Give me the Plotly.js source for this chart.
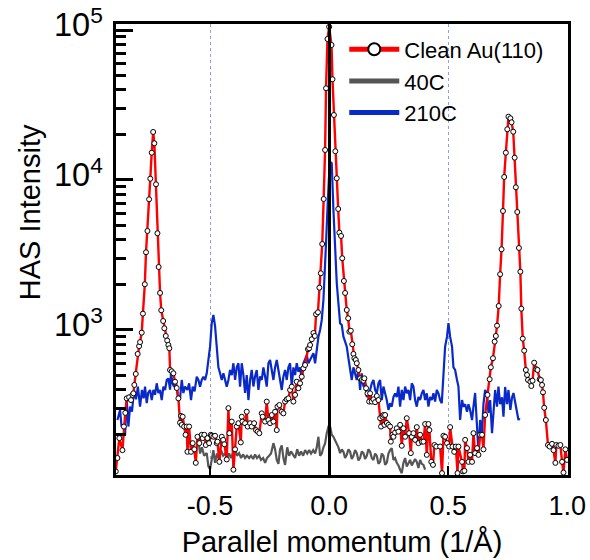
<!DOCTYPE html>
<html>
<head>
<meta charset="utf-8">
<script src="https://cdn.plot.ly/plotly-3.0.1.min.js"></script>
<style>html,body{margin:0;padding:0;background:#fff;}#chart{width:590px;height:560px;}</style>
</head>
<body>
<div id="chart"></div>
<script>
// Clean Au(110)
const cleanK = [-0.896,-0.889,-0.881,-0.868,-0.862,-0.856,-0.850,-0.840,-0.832,-0.826,-0.822,-0.818,-0.812,-0.804,-0.798,-0.794,-0.787,-0.782,-0.774,-0.769,-0.763,-0.756,-0.751,-0.745,-0.739,-0.734,-0.727,-0.721,-0.716,-0.710,-0.705,-0.697,-0.692,-0.686,-0.680,-0.675,-0.671,-0.668,-0.661,-0.654,-0.647,-0.640,-0.633,-0.626,-0.622,-0.619,-0.615,-0.609,-0.603,-0.598,-0.595,-0.588,-0.580,-0.573,-0.566,-0.560,-0.553,-0.545,-0.535,-0.531,-0.524,-0.518,-0.511,-0.504,-0.497,-0.493,-0.486,-0.479,-0.472,-0.469,-0.461,-0.451,-0.445,-0.440,-0.430,-0.423,-0.419,-0.409,-0.402,-0.395,-0.388,-0.381,-0.371,-0.367,-0.364,-0.353,-0.346,-0.342,-0.332,-0.325,-0.315,-0.307,-0.300,-0.293,-0.283,-0.279,-0.269,-0.262,-0.255,-0.248,-0.241,-0.234,-0.227,-0.220,-0.217,-0.209,-0.199,-0.192,-0.185,-0.178,-0.171,-0.164,-0.157,-0.150,-0.143,-0.136,-0.129,-0.122,-0.115,-0.108,-0.101,-0.089,-0.084,-0.080,-0.073,-0.066,-0.060,-0.055,-0.047,-0.041,-0.035,-0.029,-0.023,-0.017,-0.013,-0.007,0.000,0.010,0.014,0.020,0.026,0.032,0.038,0.043,0.050,0.055,0.062,0.067,0.074,0.080,0.085,0.091,0.097,0.102,0.106,0.112,0.116,0.123,0.130,0.137,0.144,0.148,0.155,0.161,0.168,0.172,0.179,0.186,0.193,0.200,0.207,0.214,0.218,0.224,0.228,0.232,0.235,0.242,0.249,0.256,0.259,0.266,0.270,0.277,0.284,0.291,0.298,0.305,0.312,0.319,0.326,0.336,0.343,0.347,0.354,0.361,0.368,0.375,0.382,0.389,0.396,0.403,0.410,0.417,0.421,0.429,0.436,0.442,0.450,0.466,0.474,0.480,0.487,0.495,0.504,0.508,0.518,0.525,0.532,0.539,0.543,0.558,0.562,0.568,0.571,0.579,0.585,0.592,0.600,0.606,0.613,0.621,0.627,0.634,0.642,0.648,0.655,0.665,0.674,0.679,0.688,0.695,0.700,0.705,0.712,0.718,0.724,0.730,0.735,0.742,0.748,0.753,0.761,0.766,0.773,0.779,0.784,0.790,0.797,0.803,0.807,0.813,0.819,0.826,0.831,0.835,0.845,0.849,0.854,0.861,0.870,0.875,0.884,0.889,0.894,0.898,0.903,0.910,0.919,0.926,0.936,0.942,0.950,0.954,0.963,0.971,0.978,0.984,0.992,0.999];
const cleanI = [114,140,190,158,227,280,350,356,341,369,378,430,509,692,780,830,960,1285,2017,3296,4571,7434,10200,15200,20900,17570,9362,4414,2630,1765,1353,1148,1026,912,850,794,755,541,530,514,452,410,350,241,267,233,264,227,200,227,154,227,154,176,160,130,194,176,200,190,200,171,190,176,200,197,194,197,176,180,132,194,185,173,137,301,205,245,117,160,227,239,178,264,245,239,285,227,239,227,239,215,210,205,278,264,245,333,251,239,271,245,285,215,308,316,285,278,333,345,350,398,419,333,369,452,409,441,488,555,584,744,755,794,867,955,912,1273,1312,1914,2388,3744,7468,15850,40870,87100,105000,79430,46930,27130,15540,10264,6409,4455,4233,3006,2121,1765,1359,1197,974,989,803,692,648,631,600,541,476,464,459,476,409,378,333,378,333,345,330,363,341,258,227,264,271,233,271,240,233,227,180,200,194,207,221,210,233,169,221,194,258,205,151,194,205,185,225,176,200,180,180,236,147,236,215,132,126,171,167,167,111,197,194,176,167,225,167,154,167,111,167,132,114,115,185,163,132,147,132,205,151,163,147,200,200,160,271,369,469,564,648,836,912,1068,1445,2351,3451,6212,10471,15200,21780,26420,25780,24250,20990,14090,8941,6117,3521,2447,1387,875,728,541,501,464,452,423,459,605,547,541,469,464,430,384,303,251,171,167,174,158,130,171,169,171,132,112,160,136];

// 40C
const c40K = [-0.549,-0.542,-0.534,-0.525,-0.514,-0.507,-0.500,-0.492,-0.486,-0.479,-0.471,-0.462,-0.454,-0.445,-0.437,-0.429,-0.420,-0.412,-0.403,-0.395,-0.387,-0.378,-0.370,-0.361,-0.353,-0.345,-0.336,-0.328,-0.319,-0.311,-0.303,-0.294,-0.286,-0.277,-0.269,-0.261,-0.252,-0.244,-0.234,-0.227,-0.220,-0.213,-0.206,-0.199,-0.192,-0.185,-0.176,-0.168,-0.160,-0.151,-0.143,-0.134,-0.126,-0.118,-0.109,-0.101,-0.092,-0.084,-0.076,-0.067,-0.059,-0.052,-0.045,-0.038,-0.031,-0.024,-0.017,-0.010,-0.003,0.004,0.011,0.018,0.025,0.032,0.039,0.046,0.053,0.060,0.067,0.074,0.081,0.088,0.095,0.102,0.109,0.116,0.123,0.130,0.137,0.144,0.151,0.158,0.165,0.172,0.179,0.186,0.193,0.200,0.207,0.214,0.221,0.228,0.235,0.242,0.249,0.256,0.263,0.270,0.277,0.284,0.291,0.298,0.305,0.312,0.319,0.326,0.333,0.340,0.347,0.354,0.361,0.368,0.375,0.382,0.389,0.396,0.403];
const c40I = [185,150,165,145,151,123,118,140,158,130,150,136,158,145,150,140,150,140,150,163,145,151,140,148,140,145,140,145,138,148,140,145,136,140,130,140,145,150,176,160,136,128,160,170,140,126,165,145,155,145,140,160,145,155,145,158,150,158,150,158,150,165,194,145,150,165,175,205,227,227,200,194,185,176,165,151,160,154,140,147,160,154,138,145,158,151,135,140,155,151,138,145,160,154,140,136,150,145,128,132,150,145,126,130,150,158,163,136,140,130,125,117,111,130,140,123,128,136,125,130,138,132,120,136,128,126,117];

// 210C
const c210K = [-0.889,-0.878,-0.872,-0.864,-0.857,-0.850,-0.843,-0.836,-0.828,-0.819,-0.811,-0.803,-0.794,-0.786,-0.779,-0.773,-0.766,-0.760,-0.752,-0.745,-0.738,-0.731,-0.724,-0.717,-0.710,-0.703,-0.696,-0.689,-0.682,-0.675,-0.668,-0.664,-0.658,-0.651,-0.643,-0.633,-0.626,-0.619,-0.612,-0.605,-0.595,-0.588,-0.580,-0.573,-0.565,-0.556,-0.549,-0.542,-0.535,-0.528,-0.521,-0.514,-0.507,-0.500,-0.493,-0.486,-0.479,-0.472,-0.465,-0.458,-0.451,-0.444,-0.437,-0.430,-0.423,-0.416,-0.409,-0.402,-0.395,-0.388,-0.381,-0.374,-0.367,-0.360,-0.353,-0.346,-0.339,-0.332,-0.325,-0.318,-0.311,-0.304,-0.297,-0.290,-0.283,-0.276,-0.269,-0.262,-0.255,-0.248,-0.241,-0.234,-0.227,-0.220,-0.213,-0.206,-0.199,-0.192,-0.185,-0.178,-0.171,-0.164,-0.157,-0.150,-0.143,-0.136,-0.129,-0.122,-0.115,-0.108,-0.101,-0.094,-0.087,-0.080,-0.073,-0.066,-0.059,-0.052,-0.045,-0.038,-0.031,-0.024,-0.020,-0.013,-0.006,0.000,0.008,0.011,0.018,0.025,0.032,0.039,0.046,0.053,0.060,0.067,0.074,0.081,0.088,0.095,0.102,0.109,0.116,0.123,0.130,0.137,0.144,0.151,0.158,0.165,0.172,0.179,0.186,0.193,0.200,0.207,0.214,0.221,0.228,0.235,0.242,0.249,0.256,0.263,0.270,0.277,0.284,0.291,0.298,0.305,0.312,0.319,0.326,0.333,0.340,0.347,0.354,0.361,0.368,0.375,0.382,0.389,0.396,0.403,0.410,0.417,0.424,0.431,0.438,0.445,0.452,0.459,0.466,0.473,0.480,0.487,0.495,0.501,0.508,0.516,0.522,0.529,0.537,0.543,0.550,0.558,0.564,0.571,0.579,0.585,0.592,0.600,0.606,0.613,0.621,0.627,0.634,0.642,0.648,0.655,0.663,0.669,0.676,0.684,0.690,0.697,0.705,0.711,0.718,0.726,0.732,0.739,0.747,0.753,0.761,0.768,0.774,0.782,0.789,0.795,0.800];
const c210I = [251,293,230,227,200,341,227,308,285,398,345,419,308,398,350,419,325,380,398,341,398,370,441,380,398,341,419,398,464,475,400,527,440,419,450,341,350,464,380,419,398,441,341,419,390,488,464,419,464,488,464,514,631,774,1110,1259,1060,774,563,514,464,514,464,419,464,541,500,600,464,563,600,419,600,500,380,500,341,464,541,420,490,541,398,490,464,563,490,419,600,631,541,464,563,631,541,464,398,490,541,464,563,600,420,563,500,600,527,563,464,600,631,680,600,631,660,700,600,774,900,1000,1166,1585,2053,3800,7000,11000,13200,12900,6310,3415,2053,1502,1110,1080,902,836,774,648,563,464,563,514,464,541,398,514,419,441,357,378,398,441,464,398,378,441,464,341,419,378,341,293,325,308,357,378,357,419,308,398,341,419,378,398,341,441,419,341,308,357,341,378,398,341,378,308,357,341,378,333,398,378,341,325,541,774,902,1110,902,774,563,541,464,419,251,341,308,320,285,320,293,251,308,380,227,151,251,205,320,398,380,280,341,205,280,398,308,419,320,355,264,417,320,398,293,355,380,320,280,251,258];

const xTickVals = [-0.5, 0, 0.5, 1.0];
const xTickText = ['-0.5', '0.0', '0.5', '1.0'];

const traces = [
  {x: c210K, y: c210I, name: '210C', type: 'scatter', mode: 'lines',
   line: {color: '#0a2ac8', width: 2.2}},
  {x: c40K, y: c40I, name: '40C', type: 'scatter', mode: 'lines',
   line: {color: '#555555', width: 2.2}},
  {x: cleanK, y: cleanI, name: 'Clean Au(110)', type: 'scatter', mode: 'lines+markers',
   line: {color: '#ff0000', width: 2.4},
   marker: {symbol: 'circle', size: 5, color: '#ffffff', line: {color: '#000000', width: 1}}}
];

const layout = {
  width: 590, height: 560,
  margin: {l: 116, r: 22, t: 24, b: 85},
  paper_bgcolor: '#ffffff', plot_bgcolor: '#ffffff',
  font: {family: 'Arial, "Liberation Sans", sans-serif', color: '#000000'},
  showlegend: true,
  legend: {x: 0.505, y: 0.99, xanchor: 'left', yanchor: 'top', bgcolor: 'rgba(0,0,0,0)',
           borderwidth: 0, font: {size: 22}, traceorder: 'reversed', itemsizing: 'constant',
           itemwidth: 50, tracegroupgap: 0},
  xaxis: {range: [-0.895, 1.003], tickvals: xTickVals, ticktext: xTickText,
          ticks: 'inside', ticklen: 9, tickwidth: 2, tickcolor: '#000',
          showline: true, linewidth: 3, linecolor: '#000', mirror: true,
          showgrid: true, gridcolor: '#8f9cff', griddash: 'dot', gridwidth: 1,
          zeroline: true, zerolinecolor: '#000', zerolinewidth: 3, zerolinelayer: 'above traces',
          tickfont: {size: 27}, ticklabelstandoff: 5,
          title: {text: 'Parallel momentum (1/Å)', font: {size: 29}, standoff: 12}},
  yaxis: {type: 'log', range: [2.033, 5.04], dtick: 1, exponentformat: 'power',
          ticks: 'inside', ticklen: 17, tickwidth: 3, tickcolor: '#000',
          minor: {ticks: 'inside', ticklen: 10, tickwidth: 3, tickcolor: '#000', dtick: 'D1', showgrid: false},
          showline: true, linewidth: 3, linecolor: '#000', mirror: true,
          showgrid: false, zeroline: false,
          tickfont: {size: 26}, ticklabelstandoff: 5, ticklabelshift: -5},
  annotations: [{text: 'HAS Intensity', xref: 'paper', yref: 'paper', x: -0.19, y: 0.583,
                 xanchor: 'center', yanchor: 'middle', textangle: -90, showarrow: false,
                 font: {size: 29}}]
};

Plotly.newPlot('chart', traces, layout, {displayModeBar: false, staticPlot: true});
</script>
</body>
</html>
